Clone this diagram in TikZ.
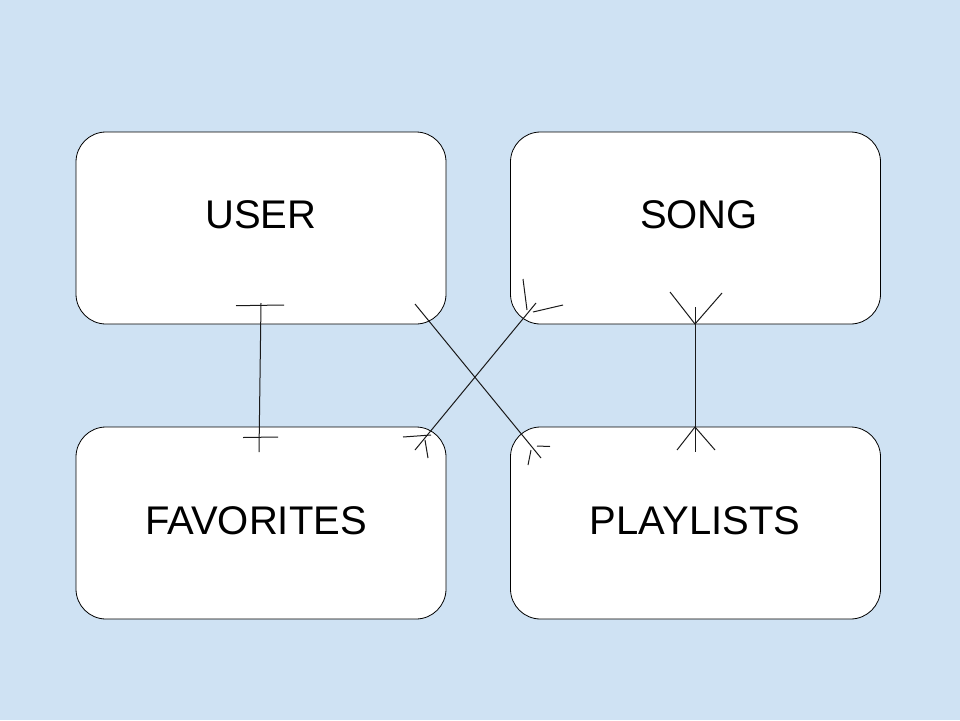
\documentclass[tikz,border=0pt]{standalone}
\usepackage{fontspec}
\setmainfont{Liberation Sans}
\definecolor{bgblue}{HTML}{CFE2F3}
\definecolor{linegray}{HTML}{1A1A1A}
\tikzset{
  entity/.style={draw=black, line width=0.8pt, fill=white, rounded corners=30pt,
    minimum width=370pt, minimum height=192pt, inner sep=0pt},
  enttext/.style={font=\fontsize{40}{42}\selectfont},
  rel/.style={draw=linegray, line width=1pt},
}
\begin{document}
\begin{tikzpicture}[x=1pt,y=-1pt]
\fill[bgblue] (0,0) rectangle (960,720);
\useasboundingbox (0,0) rectangle (960,720);
% entities
\node[entity] (user) at (261,228) {};
\node[entity] (song) at (695.5,228) {};
\node[entity] (fav) at (261,523) {};
\node[entity] (play) at (695.5,523) {};
\node[enttext] (userlbl) at (261,215) {USER};
\node[enttext] (songlbl) at (699,215) {SONG};
\node[enttext] (favlbl) at (256,521) {FAVORITES};
\node[enttext] (playlbl) at (695,521) {PLAYLISTS};
% USER -- FAVORITES (one to one)
\coordinate (uf1) at (261,303);
\coordinate (uf2) at (259,452);
\draw[rel] (uf1) -- (uf2);
\draw[rel] (236,305.7) -- (284,305);
\draw[rel] (243,437.5) -- (278,437);
% USER -- PLAYLISTS (crow's foot at playlists)
\coordinate (up1) at (415,304);
\coordinate (up2) at (541,458);
\draw[rel] (up1) -- (up2);
\draw[rel] (537,446) -- (550,446.5);
\draw[rel] (531,450) -- (528,465);
% FAVORITES -- SONG (crow's feet both ends)
\coordinate (fs1) at (415,450);
\coordinate (fs2) at (536,303);
\draw[rel] (fs1) -- (fs2);
\draw[rel] (403,437) -- (431,435);
\draw[rel] (425,440) -- (428,458);
\draw[rel] (523,279) -- (527,310);
\draw[rel] (533,312) -- (563,305);
% SONG -- PLAYLISTS (many to many)
\coordinate (sp1) at (695,307);
\coordinate (sp2) at (695,452);
\draw[rel] (sp1) -- (sp2);
\draw[rel] (670,292) -- (695,324) -- (722,293);
\draw[rel] (677,450) -- (695,427) -- (715,450);
\end{tikzpicture}
\end{document}
